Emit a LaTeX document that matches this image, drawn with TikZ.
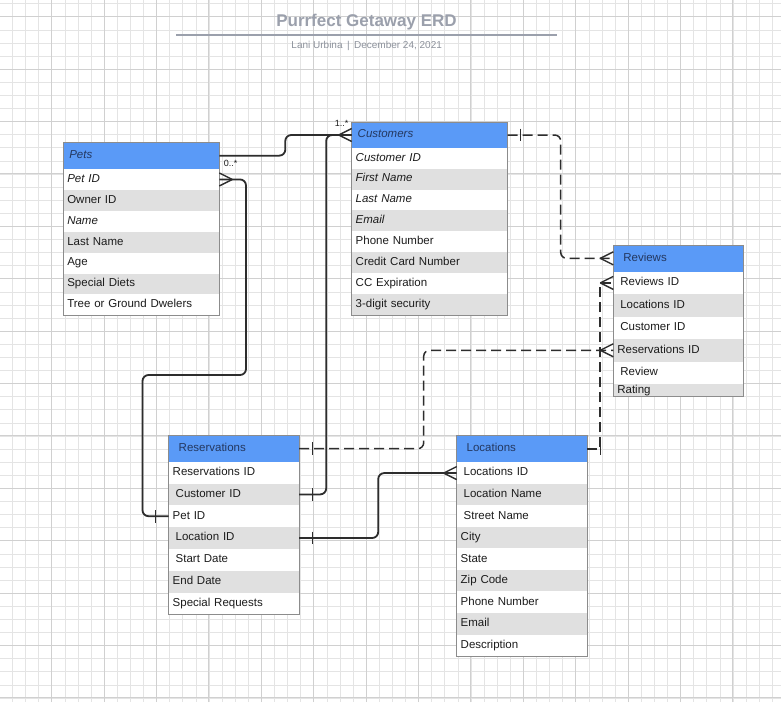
\documentclass[tikz,border=0pt]{standalone}
\usepackage{fontspec}
\setmainfont{Liberation Sans}
\usepackage{tikz}
\usetikzlibrary{positioning}

\definecolor{headblue}{RGB}{90,154,247}
\definecolor{headtext}{RGB}{36,56,96}
\definecolor{rowgray}{RGB}{224,224,224}
\definecolor{rowtext}{RGB}{28,28,28}
\definecolor{tblborder}{RGB}{140,140,140}
\definecolor{linedark}{RGB}{45,45,45}
\definecolor{titlegray}{RGB}{155,160,172}
\definecolor{subgray}{RGB}{140,145,155}
\definecolor{gridminor}{RGB}{228,228,228}
\definecolor{gridmajor}{RGB}{208,208,208}

\newcommand{\rowind}{\hspace*{3pt}}

\begin{document}
\begin{tikzpicture}[
    x=1pt, y=1pt,
    cell/.style={rectangle, fill=white, outer sep=0pt, inner xsep=4pt, inner ysep=0pt, text height=8.4pt, text depth=2.6pt, align=left, font=\fontsize{11.5}{13}\selectfont, text=rowtext},
    head/.style={cell, fill=headblue, text=headtext, anchor=north west},
    field/.style={cell, minimum height=#1},
    field/.default=20.9pt,
    wide/.style={text width=148pt},
    narrow/.style={text width=122.5pt},
    shade/.style={fill=rowgray},
    tbl/.style={draw=tblborder, line width=0.8pt},
    card/.style={inner sep=0pt, font=\fontsize{9}{10}\selectfont, text=rowtext},
    conn/.style={draw=linedark, line width=1.8pt, rounded corners=6pt},
    dashconn/.style={conn, line width=1.5pt, dash pattern=on 10pt off 5pt},
    crowfoot/.pic={\draw[linedark, line width=1.4pt] (-13,0) -- (0,6.5) (-13,0) -- (0,-6.5);},
    onetick/.pic={\draw[linedark, line width=1.4pt] (-13,-6.3) -- (-13,6.3);},
    node distance=0pt
]

% Background grid
\useasboundingbox (0,0) rectangle (781,-702);
\fill[white] (0,0) rectangle (781,-702);
\draw[gridminor, line width=0.6pt, step=13.1, shift={(-0.7,-16.7)}] (0.7,16.7) grid (781.7,-685.3);
\draw[gridmajor, line width=0.9pt, step=52.4, shift={(-0.7,-16.7)}] (0.7,16.7) grid (781.7,-685.3);

% Title
\node[font=\bfseries\fontsize{17}{20}\selectfont, text=titlegray] (title) at (366.5,-22) {Purrfect Getaway ERD};
\draw[titlegray, line width=1.8pt] (176,-35) -- (557.3,-35);
\node[font=\fontsize{10}{12}\selectfont, text=subgray] (byline) at (366.7,-45.5) {Lani Urbina \,|\, December 24, 2021};

% Pets
\node[head, wide, minimum height=26.7pt] (pets) at (63.3,-142.3) {\hspace*{2pt}\textit{Pets}};
\node[field, wide, below=of pets] (pets1) {\textit{Pet ID}};
\node[field, wide, shade, below=of pets1] (pets2) {Owner ID};
\node[field, wide, below=of pets2] (pets3) {\textit{Name}};
\node[field, wide, shade, below=of pets3] (pets4) {Last Name};
\node[field, wide, below=of pets4] (pets5) {Age};
\node[field, wide, shade, below=of pets5] (pets6) {Special Diets};
\node[field, wide, below=of pets6] (pets7) {Tree or Ground Dwelers};
\draw[tbl] (pets.north west) rectangle (pets7.south east);

% Customers
\node[head, wide, minimum height=25.4pt] (cust) at (351.7,-122.3) {\hspace*{2pt}\textit{Customers}};
\node[field, wide, below=of cust] (cust1) {\textit{Customer ID}};
\node[field, wide, shade, below=of cust1] (cust2) {\textit{First Name}};
\node[field, wide, below=of cust2] (cust3) {\textit{Last Name}};
\node[field, wide, shade, below=of cust3] (cust4) {\textit{Email}};
\node[field, wide, below=of cust4] (cust5) {Phone Number};
\node[field, wide, shade, below=of cust5] (cust6) {Credit Card Number};
\node[field, wide, below=of cust6] (cust7) {CC Expiration};
\node[field, wide, shade, below=of cust7] (cust8) {3-digit security};
\draw[tbl] (cust.north west) rectangle (cust8.south east);

% Reviews
\node[head, narrow, minimum height=26.7pt] (rev) at (613.3,-245) {\hspace*{6pt}Reviews};
\node[field=22.45pt, narrow, below=of rev] (rev1) {\rowind Reviews ID};
\node[field=22.45pt, narrow, shade, below=of rev1] (rev2) {\rowind Locations ID};
\node[field=22.45pt, narrow, below=of rev2] (rev3) {\rowind Customer ID};
\node[field=22.45pt, narrow, shade, below=of rev3] (rev4) {Reservations ID};
\node[field=22.45pt, narrow, below=of rev4] (rev5) {\rowind Review};
\node[field=12.7pt, narrow, shade, below=of rev5] (rev6) {Rating};
\draw[tbl] (rev.north west) rectangle (rev6.south east);

% Reservations
\node[head, narrow, minimum height=26pt] (resv) at (168.7,-435.7) {\hspace*{6pt}Reservations};
\node[field=21.8pt, narrow, below=of resv] (resv1) {Reservations ID};
\node[field=21.8pt, narrow, shade, below=of resv1] (resv2) {\rowind Customer ID};
\node[field=21.8pt, narrow, below=of resv2] (resv3) {Pet ID};
\node[field=21.8pt, narrow, shade, below=of resv3] (resv4) {\rowind Location ID};
\node[field=21.8pt, narrow, below=of resv4] (resv5) {\rowind Start Date};
\node[field=21.8pt, narrow, shade, below=of resv5] (resv6) {End Date};
\node[field=21.8pt, narrow, below=of resv6] (resv7) {Special Requests};
\draw[tbl] (resv.north west) rectangle (resv7.south east);

% Locations
\node[head, narrow, minimum height=26.6pt] (loc) at (456.7,-435.7) {\hspace*{6pt}Locations};
\node[field=21.53pt, narrow, below=of loc] (loc1) {\rowind Locations ID};
\node[field=21.53pt, narrow, shade, below=of loc1] (loc2) {\rowind Location Name};
\node[field=21.53pt, narrow, below=of loc2] (loc3) {\rowind Street Name};
\node[field=21.53pt, narrow, shade, below=of loc3] (loc4) {City};
\node[field=21.53pt, narrow, below=of loc4] (loc5) {State};
\node[field=21.53pt, narrow, shade, below=of loc5] (loc6) {Zip Code};
\node[field=21.53pt, narrow, below=of loc6] (loc7) {Phone Number};
\node[field=21.53pt, narrow, shade, below=of loc7] (loc8) {Email};
\node[field=21.53pt, narrow, below=of loc8] (loc9) {Description};
\draw[tbl] (loc.north west) rectangle (loc9.south east);

% Solid links
\draw[conn] (pets.east) -- ++(66,0) |- (cust.west);
\draw[conn] (pets1.east) -- ++(26.7,0) |- (142.5,-375) |- (resv3.west);
\draw[conn] (resv2.east) -- ++(27,0) |- (cust.west);
\draw[conn] (resv4.east) -- ++(79,0) |- (loc1.west);

% Dashed links
\draw[dashconn] (cust.east) -- ++(53,0) |- (rev.west);
\draw[dashconn] (resv.east) -- ++(124.5,0) |- (rev4.west);
\draw[dashconn, sharp corners] (loc.east) -- ++(13,0) |- (rev1.west);

% Line ends
\pic at (cust.west) {crowfoot};
\pic[rotate=180] at (pets1.east) {crowfoot};
\pic at (rev.west) {crowfoot};
\pic at (rev1.west) {crowfoot};
\pic at (rev4.west) {crowfoot};
\pic at (loc1.west) {crowfoot};
\pic at (resv3.west) {onetick};
\pic[rotate=180] at (resv.east) {onetick};
\pic[rotate=180] at (resv2.east) {onetick};
\pic[rotate=180] at (resv4.east) {onetick};
\pic[rotate=180] at (cust.east) {onetick};
\pic[rotate=180] at (loc.east) {onetick};

% Cardinalities
\node[card] (custcard) at (341.7,-123.3) {1..*};
\node[card] (petscard) at (230.7,-163) {0..*};

\end{tikzpicture}
\end{document}
